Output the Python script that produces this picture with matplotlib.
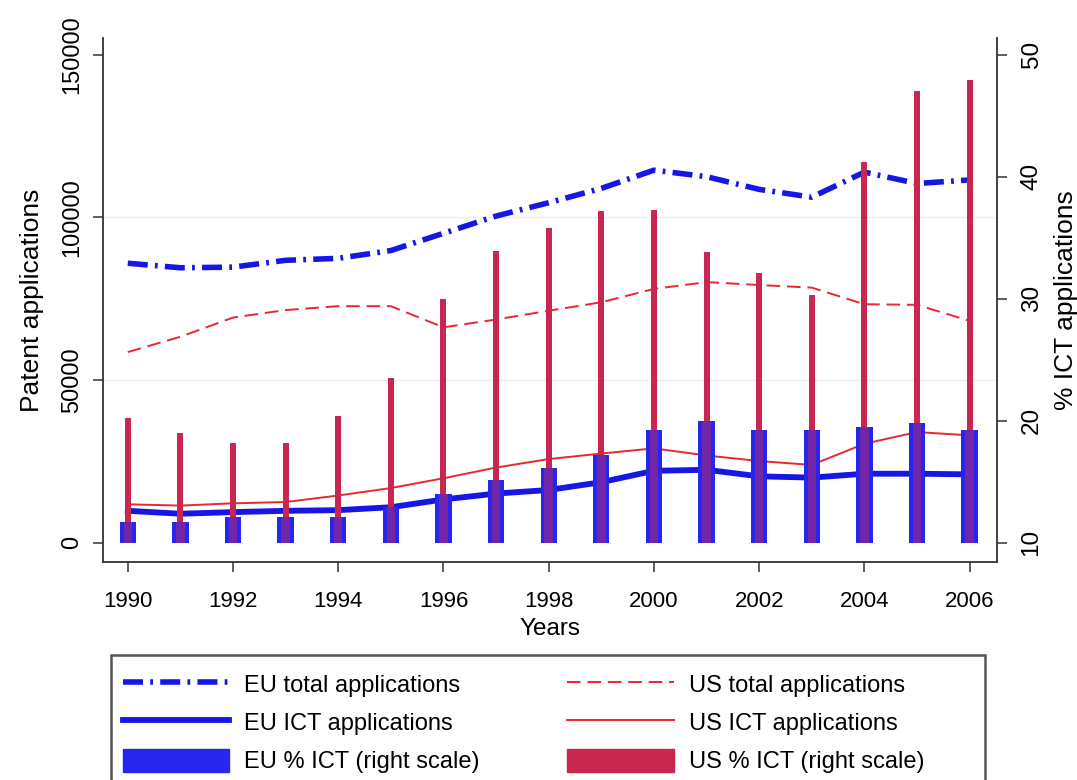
import matplotlib
matplotlib.use('Agg')
import numpy as np
import matplotlib.pyplot as plt
from matplotlib.patches import Patch, Rectangle

plt.rcParams['font.family'] = ['Liberation Sans', 'DejaVu Sans']

# ---- data ----
years = np.arange(1990, 2007)
eu_total = [85900, 84500, 84700, 86800, 87400, 89800, 95100, 100400, 104500,
            108900, 114500, 112500, 108600, 106200, 113900, 110400, 111500]
us_total = [58600, 63300, 69200, 71500, 72700, 72700, 66200, 68600, 71300,
            73900, 78000, 80100, 79200, 78400, 73300, 73100, 68200]
eu_ict = [9800, 8900, 9400, 9800, 10000, 10900, 13300, 15100, 16200,
          18600, 22100, 22400, 20400, 20000, 21200, 21200, 21000]
us_ict = [11800, 11400, 12100, 12500, 14500, 16800, 19800, 23100, 25700,
          27400, 29000, 26800, 25100, 23900, 30400, 34000, 33000]
eu_pct = [11.7, 11.7, 12.1, 12.1, 12.1, 12.9, 14.0, 15.1, 16.1,
          17.2, 19.2, 20.0, 19.2, 19.2, 19.5, 19.8, 19.2]
us_pct = [20.2, 19.0, 18.2, 18.2, 20.4, 23.5, 30.0, 33.9, 35.8,
          37.2, 37.3, 33.8, 32.1, 30.3, 41.2, 47.0, 47.9]

left_ticks = [0, 50000, 100000, 150000]
right_ticks = [10, 20, 30, 40, 50]
x_ticks = list(range(1990, 2007, 2))

legend_labels = ['EU total applications', 'EU ICT applications', 'EU % ICT (right scale)',
                 'US total applications', 'US ICT applications', 'US % ICT (right scale)']

# ---- colours ----
blue_line = '#1616e6'
blue_bar = '#2626ec'
red_line = '#ea2630'
red_bar = '#c92650'
purple = '#7026a6'
axis_col = '#333333'

fig = plt.figure(figsize=(10.77, 7.8), dpi=100)
ax = fig.add_axes([0.0952, 0.2795, 0.8305, 0.6718])
ax2 = ax.twinx()

# lines (left scale)
l1, = ax.plot(years, eu_total, color=blue_line, lw=4, dashes=(3.6, 1.3, 0.5, 1.3),
              dash_capstyle='butt')
l2, = ax.plot(years, us_total, color=red_line, lw=1.4, dashes=(7, 3.5))
l3, = ax.plot(years, eu_ict, color=blue_line, lw=4.2)
l4, = ax.plot(years, us_ict, color=red_line, lw=1.4)

# bars (right scale), drawn on top of the lines
base = 10
eu_arr = np.array(eu_pct)
us_arr = np.array(us_pct)
ax2.bar(years, eu_arr - base, bottom=base, width=0.31, color=blue_bar, linewidth=0)
ax2.bar(years, us_arr - base, bottom=base, width=0.115, color=red_bar, linewidth=0)
# where the two bars overlap the picture shows a purple core
ax2.bar(years, np.minimum(eu_arr, us_arr) - base, bottom=base, width=0.16,
        color=purple, linewidth=0)

# axes ranges
ax.set_xlim(1989.52, 2006.52)
ax.set_ylim(-5930, 155130)
ax2.set_ylim(8.42, 51.37)

ax.set_xticks(x_ticks)
ax.set_xticklabels([str(x) for x in x_ticks], fontsize=16)
ax.set_yticks(left_ticks)
ax.set_yticklabels([str(v) for v in left_ticks], rotation=90, va='center', fontsize=17)
ax2.set_yticks(right_ticks)
ax2.set_yticklabels([str(v) for v in right_ticks], rotation=90, va='center', fontsize=17.5)

ax.tick_params(axis='x', length=7, width=1.1, color=axis_col, pad=14)
ax.tick_params(axis='y', length=7, width=1.1, color=axis_col, pad=7)
ax2.tick_params(axis='y', length=7, width=1.1, color=axis_col, pad=10)

ax.set_xlabel('Years', fontsize=17.5, labelpad=4)
ax.set_ylabel('Patent applications', fontsize=19, labelpad=12)
ax2.set_ylabel('% ICT applications', fontsize=19, labelpad=8)

# faint grid at the inner ticks
ax.yaxis.grid(True, color='#eeeeee', lw=1)
gl = ax.yaxis.get_gridlines()
gl[0].set_visible(False)
gl[-1].set_visible(False)
ax.set_axisbelow(True)

for a in (ax, ax2):
    a.spines['top'].set_visible(False)
    for s in a.spines.values():
        s.set_color(axis_col)
        s.set_linewidth(1.3)
ax.spines['right'].set_visible(False)
ax2.spines['left'].set_visible(False)
ax2.spines['bottom'].set_visible(False)

# legend below the plot, in a box that runs off the bottom edge
handles = [l1, l3, Patch(color=blue_bar), l2, l4, Patch(color=red_bar)]
leg = fig.legend(handles, legend_labels, ncol=2, loc='upper left',
                 bbox_to_anchor=(0.1028, 0.1538), bbox_transform=fig.transFigure,
                 frameon=False, fontsize=17,
                 handlelength=4.5, handleheight=1.15, handletextpad=0.64,
                 columnspacing=3.73, borderpad=0.5, labelspacing=0.58,
                 borderaxespad=0)
fig.patches.append(Rectangle((0.1028, -0.05), 0.8118, 0.2103, transform=fig.transFigure,
                             fill=False, edgecolor='#555555', linewidth=1.8))

fig.savefig('out.png', dpi=100)
